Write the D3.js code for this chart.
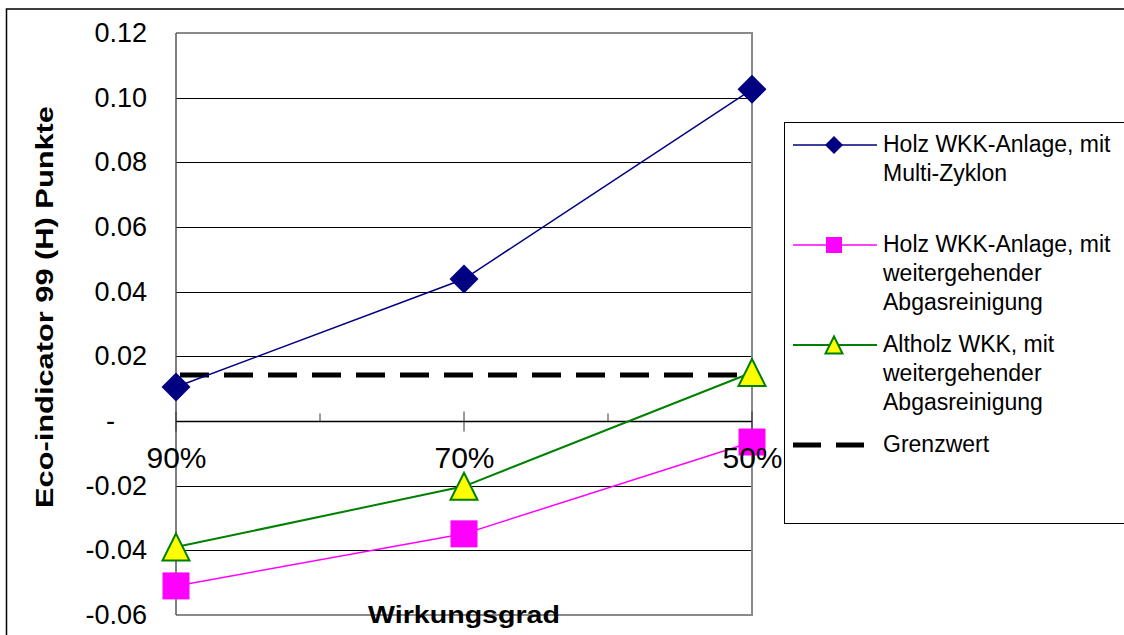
<!DOCTYPE html>
<html>
<head>
<meta charset="utf-8">
<script src="https://cdn.jsdelivr.net/npm/d3@7"></script>
<style>
  html, body { margin: 0; padding: 0; background: #fff; }
  svg { display: block; font-family: "Liberation Sans", Arial, sans-serif; }
</style>
</head>
<body>
<svg id="chart" width="1124" height="635"></svg>
<script>
// ---------- data ----------
const categories = ["90%", "70%", "50%"];
const holzMultiZyklon = [0.0105, 0.0439, 0.1026];
const holzWeitergehend = [-0.0510, -0.0349, -0.0065];
const altholzWeitergehend = [-0.0390, -0.0202, 0.0150];
const grenzwert = 0.0142;
const yTicks = [-0.06, -0.04, -0.02, 0, 0.02, 0.04, 0.06, 0.08, 0.10, 0.12];
const legendLabels = [
  ["Holz WKK-Anlage, mit", "Multi-Zyklon"],
  ["Holz WKK-Anlage, mit", "weitergehender", "Abgasreinigung"],
  ["Altholz WKK, mit", "weitergehender", "Abgasreinigung"],
  ["Grenzwert"]
];
const xTitle = "Wirkungsgrad";
const yTitle = "Eco-indicator 99 (H) Punkte";

// ---------- setup ----------
const svg = d3.select("#chart");
const W = 1124, H = 635;
const plot = { left: 176, right: 752, top: 33, bottom: 615 };

svg.append("rect").attr("width", W).attr("height", H).attr("fill", "#fff");
// outer chart border (cropped on right / bottom)
svg.append("rect").attr("x", 6.5).attr("y", 9).attr("width", 1130).attr("height", 640)
  .attr("fill", "none").attr("stroke", "#000").attr("stroke-width", 1.5);

const x = d3.scalePoint().domain(categories).range([plot.left, plot.right]).padding(0);
const y = d3.scaleLinear().domain([-0.06, 0.12]).range([plot.bottom, plot.top]);

// gridlines
svg.append("g").selectAll("line")
  .data(yTicks.filter(v => v > -0.06 && v < 0.12 && v !== 0))
  .join("line")
  .attr("x1", plot.left).attr("x2", plot.right)
  .attr("y1", d => Math.round(y(d)) + 0.5).attr("y2", d => Math.round(y(d)) + 0.5)
  .attr("stroke", "#000").attr("stroke-width", 1);

// plot frame
svg.append("path")
  .attr("d", `M${plot.left},${plot.top}H${plot.right}V${plot.bottom}H${plot.left}`)
  .attr("fill", "none").attr("stroke", "#8a8a8a").attr("stroke-width", 2);
svg.append("line").attr("x1", plot.left).attr("x2", plot.left)
  .attr("y1", plot.top).attr("y2", plot.bottom)
  .attr("stroke", "#555").attr("stroke-width", 1.5);

// y axis labels
const fmt = d => d === 0 ? "-" : (d < 0 ? "-" : "") + Math.abs(d).toFixed(2);
const yAxis = svg.append("g").attr("transform", `translate(${plot.left},0)`)
  .call(d3.axisLeft(y).tickValues(yTicks).tickFormat(fmt).tickSize(0).tickPadding(29));
yAxis.select(".domain").remove();
yAxis.selectAll("text").attr("font-size", 27).attr("fill", "#000")
  .attr("font-family", "'Liberation Sans', Arial, sans-serif");
yAxis.selectAll(".tick").filter(d => d === 0).select("text").attr("x", -61);

// x axis line at zero
const y0 = Math.round(y(0)) + 0.5;
svg.append("line").attr("x1", plot.left).attr("x2", plot.right)
  .attr("y1", y0).attr("y2", y0).attr("stroke", "#000").attr("stroke-width", 1.5);
// major ticks (crossing) at categories
svg.append("g").selectAll("line").data(categories).join("line")
  .attr("x1", d => x(d)).attr("x2", d => x(d))
  .attr("y1", y0 - 10).attr("y2", y0 + 10)
  .attr("stroke", "#333").attr("stroke-width", 1);
// minor ticks between categories
const mids = categories.slice(1).map((c, i) => (x(c) + x(categories[i])) / 2);
svg.append("g").selectAll("line").data(mids).join("line")
  .attr("x1", d => d).attr("x2", d => d)
  .attr("y1", y0 - 8).attr("y2", y0)
  .attr("stroke", "#333").attr("stroke-width", 1);

// Grenzwert dashed line
svg.append("line")
  .attr("x1", x(categories[0])).attr("x2", x(categories[categories.length - 1]))
  .attr("y1", y(grenzwert)).attr("y2", y(grenzwert))
  .attr("stroke", "#000").attr("stroke-width", 5)
  .attr("stroke-dasharray", "29,15").attr("stroke-dashoffset", -4);

// series
const series = [
  { values: holzMultiZyklon, color: "#000080", width: 1.5, marker: "diamond", fill: "#000080", stroke: "#000080" },
  { values: holzWeitergehend, color: "#FF00FF", width: 1.5, marker: "square", fill: "#FF00FF", stroke: "#FF00FF" },
  { values: altholzWeitergehend, color: "#008000", width: 2, marker: "triangle", fill: "#FFFF00", stroke: "#008000" }
];
function markerPath(type, s) {
  if (type === "diamond") return `M0,${-s}L${s},0L0,${s}L${-s},0Z`;
  if (type === "square") return `M${-s},${-s}H${s}V${s}H${-s}Z`;
  return `M0,${-s}L${s},${s}L${-s},${s}Z`;
}
const plotMarkerSize = { diamond: 14.5, square: 13.5, triangle: 13.5 };
const line = d3.line().x((d, i) => x(categories[i])).y(d => y(d));
series.forEach(s => {
  svg.append("path").datum(s.values).attr("d", line)
    .attr("fill", "none").attr("stroke", s.color).attr("stroke-width", s.width);
});
series.forEach(s => {
  svg.append("g").selectAll("path").data(s.values).join("path")
    .attr("transform", (d, i) => `translate(${x(categories[i])},${y(d)})`)
    .attr("d", markerPath(s.marker, plotMarkerSize[s.marker]))
    .attr("fill", s.fill).attr("stroke", s.stroke).attr("stroke-width", s.marker === "triangle" ? 2 : 0);
});

// x axis labels (drawn above markers)
const xAxis = svg.append("g").attr("transform", `translate(0,${y(0)})`)
  .call(d3.axisBottom(x).tickSize(0).tickPadding(26));
xAxis.select(".domain").remove();
xAxis.selectAll("text").attr("font-size", 30).attr("fill", "#000")
  .attr("font-family", "'Liberation Sans', Arial, sans-serif");

// axis titles
svg.append("text").attr("x", 464).attr("y", 623).attr("text-anchor", "middle")
  .attr("font-size", 23).attr("font-weight", "bold")
  .attr("textLength", 192).attr("lengthAdjust", "spacingAndGlyphs")
  .text(xTitle);
svg.append("text").attr("transform", "translate(53,307) rotate(-90)")
  .attr("text-anchor", "middle")
  .attr("font-size", 23).attr("font-weight", "bold")
  .attr("textLength", 402).attr("lengthAdjust", "spacingAndGlyphs")
  .text(yTitle);

// legend
svg.append("rect").attr("x", 784.5).attr("y", 122.5).attr("width", 400).attr("height", 401)
  .attr("fill", "#fff").attr("stroke", "#000").attr("stroke-width", 1);
const legendY = [145, 245, 345, 445];
const legendMarkerSize = { diamond: 9, square: 8, triangle: 8.5 };
const lg = svg.append("g");
[...series, { dashed: true }].forEach((s, k) => {
  const ly = legendY[k];
  if (s.dashed) {
    lg.append("line").attr("x1", 793).attr("x2", 877).attr("y1", ly).attr("y2", ly)
      .attr("stroke", "#000").attr("stroke-width", 5).attr("stroke-dasharray", "28,15");
  } else {
    lg.append("line").attr("x1", 793).attr("x2", 877).attr("y1", ly).attr("y2", ly)
      .attr("stroke", s.color).attr("stroke-width", s.width);
    lg.append("path").attr("transform", `translate(834,${ly})`)
      .attr("d", markerPath(s.marker, legendMarkerSize[s.marker]))
      .attr("fill", s.fill).attr("stroke", s.stroke).attr("stroke-width", s.marker === "triangle" ? 2 : 0);
  }
  legendLabels[k].forEach((t, j) => {
    lg.append("text")
      .attr("x", 883).attr("y", ly + 7 + j * 29)
      .attr("font-size", 23).attr("fill", "#000").text(t);
  });
});
</script>
</body>
</html>
